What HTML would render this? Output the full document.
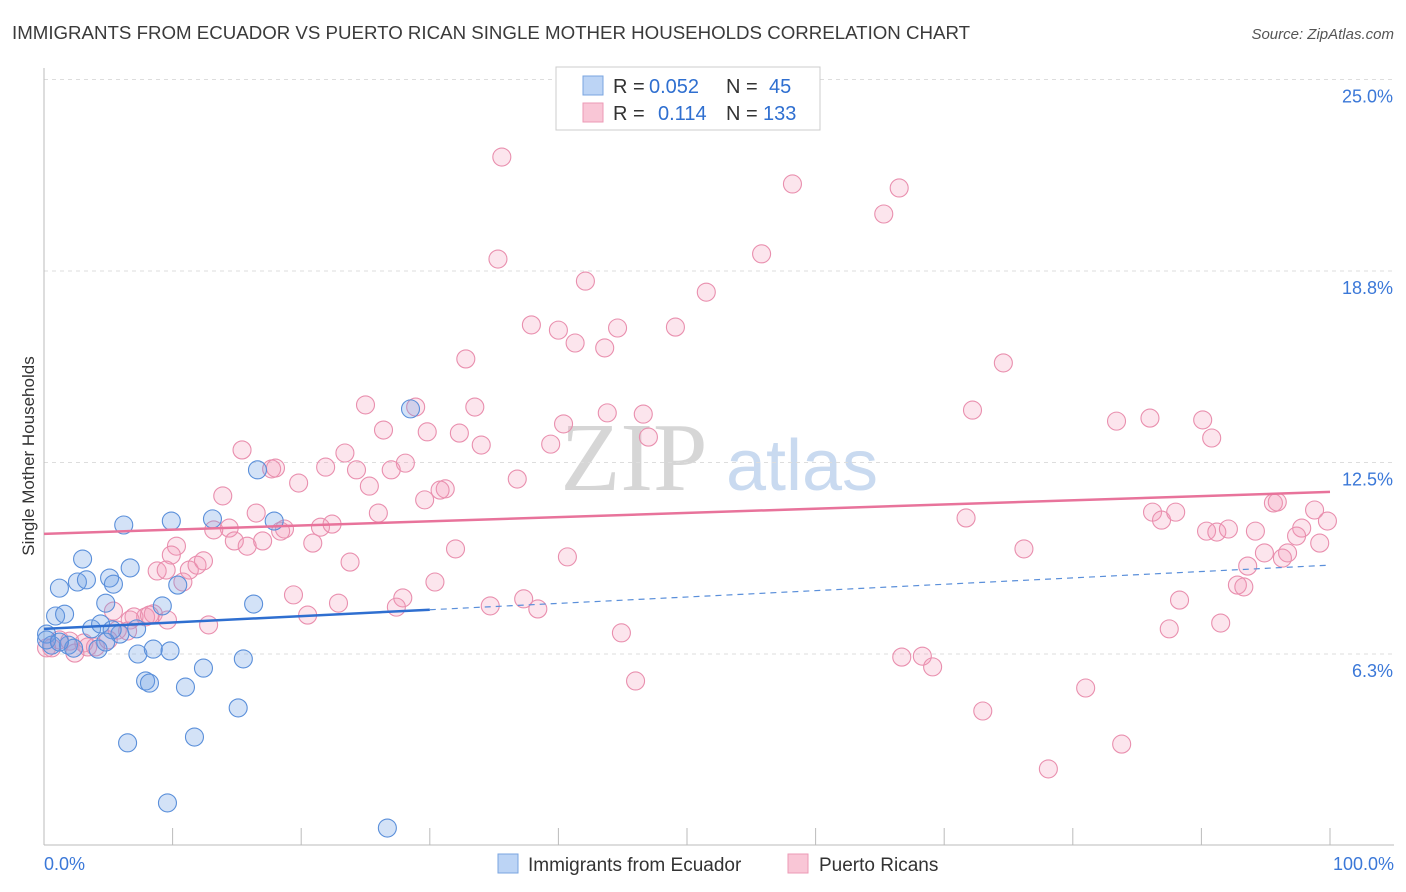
<!DOCTYPE html>
<html><head><meta charset="utf-8">
<style>
body{margin:0;background:#fff;font-family:"Liberation Sans",sans-serif;}
svg{display:block}
</style></head><body>
<svg id="chart" width="1406" height="892" xmlns="http://www.w3.org/2000/svg">
<text x="12" y="39" font-size="18.7" fill="#3a3a3a">IMMIGRANTS FROM ECUADOR VS PUERTO RICAN SINGLE MOTHER HOUSEHOLDS CORRELATION CHART</text>
<text x="1394" y="39" font-size="15" fill="#555" text-anchor="end" font-style="italic">Source: ZipAtlas.com</text>
<g>
<text x="634" y="490" font-size="98" fill="#d6d6d6" text-anchor="middle" font-family="Liberation Serif,serif">ZIP</text>
<text x="802" y="490" font-size="72" fill="#c9daf0" text-anchor="middle">atlas</text>
</g>
<g id="grid"></g>
<g id="axes"></g>
<g id="marks"></g>
<text transform="translate(34,456) rotate(-90)" font-size="17" fill="#333" text-anchor="middle">Single Mother Households</text>
<g font-size="20">
<rect x="556" y="67" width="264" height="63" fill="#fff" stroke="#ccc"/>
<rect x="583" y="76" width="20" height="19" fill="#bcd4f5" stroke="#7aa5e0"/>
<rect x="583" y="103" width="20" height="19" fill="#f9c6d6" stroke="#ec9ab6"/>
<text x="613" y="93" fill="#333">R =</text>
<text x="649" y="93" fill="#2f6fd0">0.052</text>
<text x="726" y="93" fill="#333">N =</text>
<text x="769" y="93" fill="#2f6fd0">45</text>
<text x="613" y="120" fill="#333">R =</text>
<text x="658" y="120" fill="#2f6fd0">0.114</text>
<text x="726" y="120" fill="#333">N =</text>
<text x="763" y="120" fill="#2f6fd0">133</text>
</g>
<g>
<rect x="498" y="854" width="20" height="19" fill="#bcd4f5" stroke="#7aa5e0"/>
<text x="528" y="871" font-size="19" fill="#333">Immigrants from Ecuador</text>
<rect x="788" y="854" width="20" height="19" fill="#f9c6d6" stroke="#ec9ab6"/>
<text x="819" y="871" font-size="19" fill="#333">Puerto Ricans</text>
</g>
</svg>
<script>
const yTicks=[25,18.75,12.5,6.25];
const yTickLabels=["25.0%","18.8%","12.5%","6.3%"];
const xTicks=[0,10,20,30,40,50,60,70,80,90,100];
const blueX=[6.2,9.9,13.1,17.9,16.6,28.5,3.0,1.2,2.6,3.3,5.1,5.4,6.7,10.4,4.8,9.2,16.3,0.9,1.6,3.7,4.4,7.2,5.9,0.2,0.6,1.9,2.3,4.2,7.3,8.5,9.8,12.4,15.5,7.9,8.2,11.0,15.1,6.5,11.7,9.6,26.7,0.2,1.2,5.3,4.8];
const blueY=[10.46,10.59,10.66,10.59,12.26,14.25,9.35,8.40,8.60,8.67,8.73,8.53,9.06,8.50,7.91,7.82,7.88,7.49,7.55,7.07,7.23,7.07,6.90,6.90,6.54,6.54,6.44,6.41,6.25,6.41,6.35,5.79,6.09,5.37,5.30,5.17,4.49,3.35,3.54,1.39,0.57,6.71,6.64,7.04,6.64];
const pinkX=[35.6,58.2,66.5,65.3,35.3,55.8,42.1,51.5,37.9,40.0,44.6,49.1,41.3,43.6,32.8,74.6,25.0,28.9,33.5,43.8,46.6,72.2,86.0,83.4,90.1,40.4,26.4,29.8,32.3,47.0,90.8,15.4,39.4,34.0,23.4,28.1,21.9,24.3,17.7,18.0,27.0,36.8,19.8,25.3,31.2,30.8,13.9,29.6,26.0,16.5,71.7,86.2,86.9,88.0,95.6,95.9,98.8,99.8,21.5,22.4,18.7,18.4,14.4,13.2,14.8,15.8,17.0,20.9,90.4,91.2,92.1,94.2,97.8,97.4,99.2,76.2,32.0,40.7,10.3,9.9,23.8,94.9,96.7,96.3,93.6,8.8,9.5,11.3,11.9,12.4,10.8,30.4,92.8,93.3,19.4,27.9,37.3,88.3,34.7,38.4,22.9,27.4,20.5,5.4,7.9,8.5,7.0,6.7,12.8,5.7,6.5,91.5,87.5,44.9,1.2,2.0,3.1,3.4,4.0,2.4,0.6,0.2,66.7,68.3,69.1,46.0,81.0,73.0,83.8,78.1,8.2,9.6,5.0];
const pinkY=[22.47,21.59,21.46,20.61,19.14,19.31,18.42,18.06,16.99,16.82,16.89,16.92,16.40,16.24,15.88,15.75,14.38,14.31,14.31,14.12,14.08,14.21,13.95,13.85,13.89,13.76,13.56,13.50,13.46,13.33,13.30,12.91,13.10,13.07,12.81,12.48,12.35,12.26,12.29,12.32,12.26,11.96,11.83,11.73,11.64,11.60,11.41,11.28,10.85,10.85,10.69,10.88,10.62,10.88,11.18,11.21,10.95,10.59,10.39,10.49,10.33,10.26,10.36,10.30,9.94,9.77,9.94,9.87,10.26,10.23,10.33,10.26,10.36,10.10,9.87,9.68,9.68,9.42,9.77,9.48,9.25,9.55,9.55,9.38,9.12,8.96,8.99,8.99,9.15,9.29,8.60,8.60,8.50,8.44,8.18,8.08,8.05,8.01,7.82,7.72,7.91,7.78,7.52,7.65,7.46,7.56,7.46,7.36,7.20,7.03,7.00,7.26,7.07,6.94,6.71,6.67,6.61,6.48,6.48,6.28,6.45,6.45,6.15,6.18,5.83,5.37,5.14,4.39,3.31,2.50,7.52,7.36,6.71];
const blueTrend=[7.07,9.15];
const blueSolidEnd=30;
const pinkTrend=[10.17,11.54];

const NS="http://www.w3.org/2000/svg";
const X0=44,X1=1330,YB=845.5,YPER=30.64;
const sx=v=>X0+(X1-X0)*v/100;
const sy=v=>YB-v*YPER;
function mk(tag,attrs,parent){const e=document.createElementNS(NS,tag);for(const k in attrs)e.setAttribute(k,attrs[k]);parent.appendChild(e);return e;}
const grid=document.getElementById('grid'),axes=document.getElementById('axes'),marks=document.getElementById('marks');
yTicks.forEach((t,i)=>{
  const l=mk('line',{x1:44,x2:1394,y1:sy(t),y2:sy(t),stroke:'#ddd','stroke-dasharray':'4 4'},grid);
  
  
  const tx=mk('text',{x:1393,y:sy(t)+23,'font-size':18,fill:'#3b78d8','text-anchor':'end'},axes);
  tx.textContent=yTickLabels[i];
  
  
});
const ya=mk('line',{x1:44,x2:44,y1:68,y2:845,stroke:'#bbb'},axes);


const xa=mk('line',{x1:44,x2:1394,y1:845,y2:845,stroke:'#bbb'},axes);


xTicks.forEach(t=>{
  const l=mk('line',{x1:sx(t),x2:sx(t),y1:828,y2:845,stroke:'#bbb'},axes);
  
  
});
const xl0=mk('text',{x:44,y:870,'font-size':18,fill:'#3b78d8'},axes);xl0.textContent='0.0%';


const xl1=mk('text',{x:1394,y:870,'font-size':18,fill:'#3b78d8','text-anchor':'end'},axes);xl1.textContent='100.0%';



pinkX.forEach((v,i)=>{
  const c=mk('circle',{cx:sx(v),cy:sy(pinkY[i]),r:9,fill:'rgba(242,150,182,0.25)',stroke:'#e98fae','stroke-width':1.1},marks);
  
  
});
blueX.forEach((v,i)=>{
  const c=mk('circle',{cx:sx(v),cy:sy(blueY[i]),r:9,fill:'rgba(110,160,230,0.3)',stroke:'#5a8fda','stroke-width':1.1},marks);
  
  
});
const bAt=x=>blueTrend[0]+(blueTrend[1]-blueTrend[0])*x/100;
const bs=mk('line',{x1:sx(0),y1:sy(bAt(0)),x2:sx(blueSolidEnd),y2:sy(bAt(blueSolidEnd)),stroke:'#2f6fd0','stroke-width':2.5},marks);


const bd=mk('line',{x1:sx(blueSolidEnd),y1:sy(bAt(blueSolidEnd)),x2:sx(100),y2:sy(bAt(100)),stroke:'#5a8fda','stroke-width':1.2,'stroke-dasharray':'6 5'},marks);


const pl=mk('line',{x1:sx(0),y1:sy(pinkTrend[0]),x2:sx(100),y2:sy(pinkTrend[1]),stroke:'#e8739b','stroke-width':2.5},marks);


</script>
</body></html>
